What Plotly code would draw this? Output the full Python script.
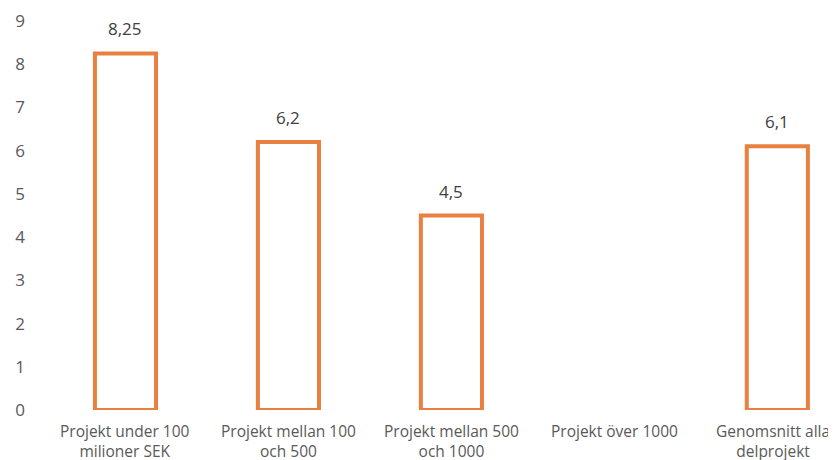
import plotly.graph_objects as go

categories = ["Projekt under 100<br>milioner SEK", "Projekt mellan 100<br>och 500",
              "Projekt mellan 500<br>och 1000", "Projekt över 1000",
              "Genomsnitt alla<br>delprojekt"]
values = [8.25, 6.2, 4.5, None, 6.1]
yticks = list(range(0, 10))

labels = [("" if v is None else f"{v:g}".replace(".", ",")) for v in values]
xs = list(range(len(categories)))

fig = go.Figure(go.Bar(
    x=xs, y=values,
    width=0.375,
    marker=dict(color="white", line=dict(color="#E8803F", width=4)),
    cliponaxis=False,
))

for x, v, t in zip(xs, values, labels):
    if v is None:
        continue
    fig.add_annotation(x=x, y=v, text=t, showarrow=False, yanchor="bottom",
                       yshift=11, font=dict(family="Open Sans", size=17, color="#404040"))

# category labels as annotations so the right-most one is not dropped at the edge
for x, c in zip(xs, categories):
    fig.add_annotation(x=x, y=0, text=c, showarrow=False, yanchor="top",
                       yshift=-8, xshift=(-4 if x == len(xs) - 1 else 0),
                       align="center",
                       font=dict(family="Open Sans", size=15.5, color="#595959"))

fig.update_layout(
    width=828, height=452,
    margin=dict(l=36, r=0, t=13, b=50),
    plot_bgcolor="white", paper_bgcolor="white",
    showlegend=False,
    font=dict(family="Open Sans", color="#595959"),
    xaxis=dict(range=[-0.5, 4.36], tickmode="array", automargin=False,
               tickvals=xs, showticklabels=False,
               showgrid=False, zeroline=False, showline=False),
    yaxis=dict(range=[0, 9], tickmode="array", tickvals=yticks, automargin=False,
               ticktext=[str(t) for t in yticks],
               showgrid=False, zeroline=False, showline=False,
               ticklabelstandoff=18,
               tickfont=dict(size=17, color="#595959")),
)

fig.write_html("out.html")
